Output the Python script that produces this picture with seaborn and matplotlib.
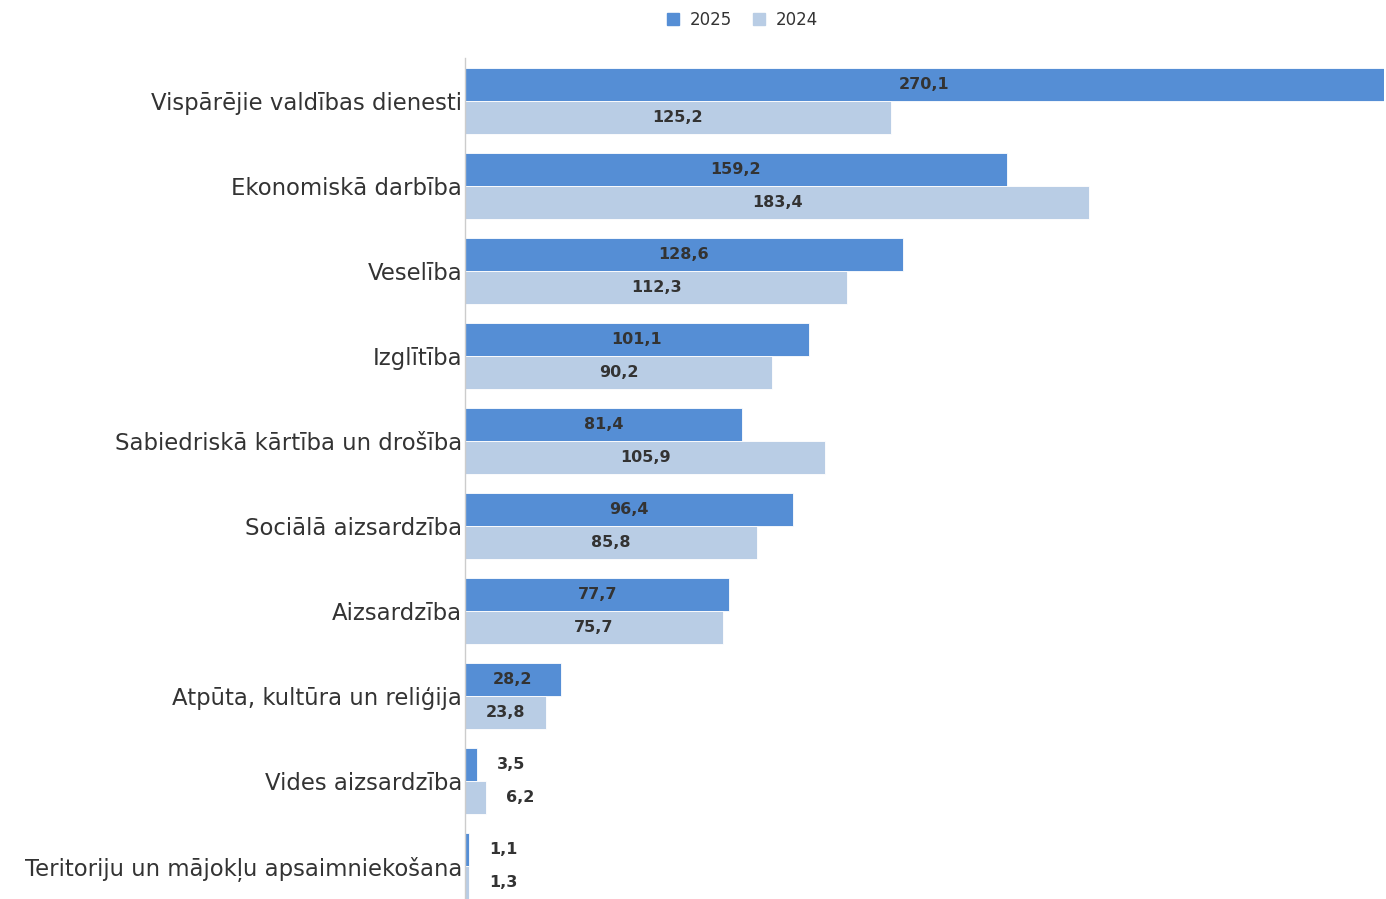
import matplotlib
matplotlib.use("Agg")
import matplotlib.pyplot as plt
import seaborn as sns
import pandas as pd
from matplotlib.lines import Line2D

categories = [
    "Vispārējie valdības dienesti",
    "Ekonomiskā darbība",
    "Veselība",
    "Izglītība",
    "Sabiedriskā kārtība un drošība",
    "Sociālā aizsardzība",
    "Aizsardzība",
    "Atpūta, kultūra un reliģija",
    "Vides aizsardzība",
    "Teritoriju un mājokļu apsaimniekošana",
]
values_2025 = [270.1, 159.2, 128.6, 101.1, 81.4, 96.4, 77.7, 28.2, 3.5, 1.1]
values_2024 = [125.2, 183.4, 112.3, 90.2, 105.9, 85.8, 75.7, 23.8, 6.2, 1.3]
series = ["2025", "2024"]
colors = {"2025": "#558ed5", "2024": "#b9cde5"}

df = pd.DataFrame({
    "category": categories * 2,
    "value": values_2025 + values_2024,
    "series": ["2025"] * len(categories) + ["2024"] * len(categories),
})

sns.set_style("white")
plt.rcParams["font.family"] = ["DejaVu Sans"]

fig = plt.figure(figsize=(13.86, 8.99), dpi=100)
ax = fig.add_axes([465 / 1386, -9.5 / 899, 919 / 1386, 850 / 899])

sns.barplot(data=df, y="category", x="value", hue="series", hue_order=series,
            order=categories, orient="h", palette=colors, saturation=1, width=0.78,
            edgecolor="white", linewidth=0.6, ax=ax, legend=False)

ax.set_xlim(0, 270.1)
ax.set_ylim(9.5, -0.5)
ax.set_xlabel("")
ax.set_ylabel("")
ax.set_xticks([])
for s in ["top", "right", "bottom"]:
    ax.spines[s].set_visible(False)
ax.spines["left"].set_color("#cccccc")
ax.spines["left"].set_linewidth(1)
ax.tick_params(axis="y", length=0, pad=2, labelsize=16.4, labelcolor="#333333")

px_per_unit = 919 / 270.1
for container in ax.containers:
    for bar in container:
        v = bar.get_width()
        y = bar.get_y() + bar.get_height() / 2
        label = f"{v:.1f}".replace(".", ",")
        if v * px_per_unit > 60:
            ax.text(v / 2, y, label, ha="center", va="center",
                    fontsize=11.5, fontweight="bold", color="#333333")
        else:
            ax.annotate(label, xy=(v, y), xytext=(20, 0), textcoords="offset pixels",
                        ha="left", va="center", fontsize=11.5, fontweight="bold",
                        color="#333333")

handles = [Line2D([0], [0], marker="s", linestyle="none", markersize=9,
                  markerfacecolor=colors[s], markeredgecolor=colors[s]) for s in series]
fig.legend(handles, series, loc="center", bbox_to_anchor=(742 / 1386, 1 - 20 / 899),
           ncol=2, frameon=False, fontsize=12, labelcolor="#333333",
           handletextpad=0.6, columnspacing=1.2, handlelength=0.8)

fig.savefig("out.png", dpi=100)
